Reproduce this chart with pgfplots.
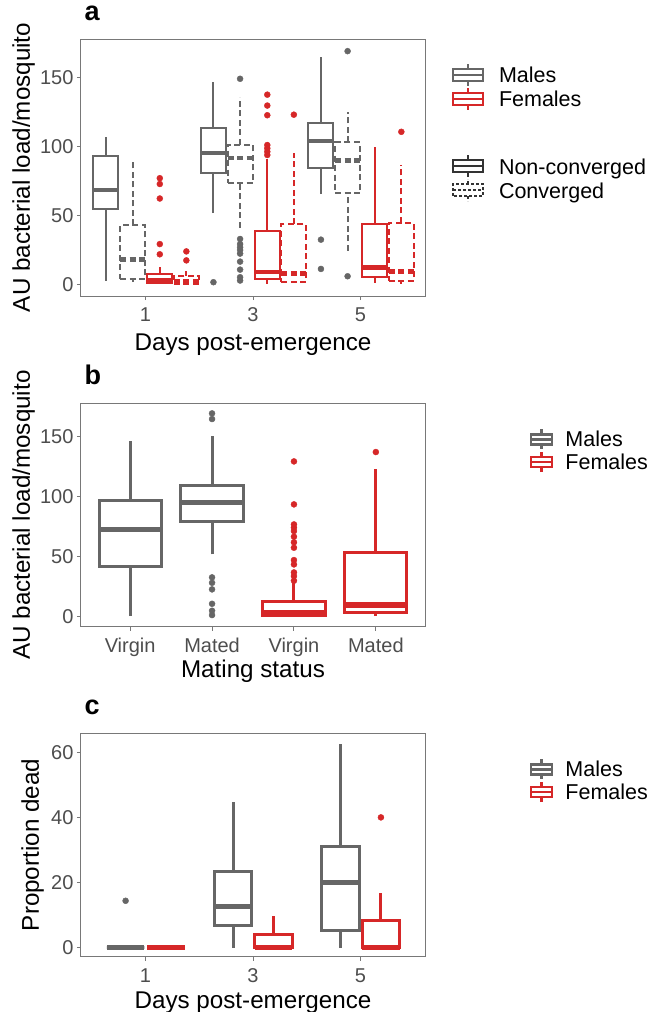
\documentclass[border=0pt]{standalone}
\usepackage{fontspec}
\setmainfont{Liberation Sans}
\usepackage{pgfplots}
\pgfplotsset{compat=1.18}

\definecolor{mgrey}{RGB}{102,102,102}
\definecolor{fred}{RGB}{214,39,40}
\definecolor{dgrey}{RGB}{51,51,51}
\definecolor{framegrey}{RGB}{120,120,120}
\definecolor{ticklab}{RGB}{77,77,77}

% \bx{style}{position}{half width}{lower whisker}{lower quartile}{median}{upper quartile}{upper whisker}
\newcommand{\bx}[8]{%
  \pgfmathsetmacro\xa{#2-#3}\pgfmathsetmacro\xb{#2+#3}%
  \edef\tmp{%
    \noexpand\addplot[#1] coordinates {(#2,#4) (#2,#5)};
    \noexpand\addplot[#1] coordinates {(#2,#7) (#2,#8)};
    \noexpand\addplot[#1] coordinates {(\xa,#5) (\xb,#5) (\xb,#7) (\xa,#7)} -- cycle;
    \noexpand\addplot[#1, medline] coordinates {(\xa,#6) (\xb,#6)};
  }\tmp}

\pgfplotsset{
  common/.style={
    scale only axis, width=344pt,
    axis line style={framegrey, line width=1pt},
    tick align=outside, xtick pos=left, ytick pos=left,
    major tick length=4pt,
    every tick/.style={framegrey, line width=1pt},
    /pgf/number format/assume math mode=true,
    ticklabel style={font=\fontsize{20}{23}\selectfont, text=ticklab},
    xticklabel style={yshift=-4pt},
    label style={font=\fontsize{24.2}{28}\selectfont},
    title style={font=\fontsize{27}{30}\selectfont\bfseries, at={(rel axis cs:0,1)}, anchor=base west, yshift=13pt},
    legend style={draw=none, fill=none, anchor=north west, inner sep=0pt, outer sep=0pt,
      font=\fontsize{21.5}{24}\selectfont, row sep=0pt, nodes={inner sep=0pt}},
    legend cell align=left,
  },
  legboxA/.style={legend image code/.code={
      \draw[##1, line width=2pt] (0pt,-6pt) rectangle (30pt,6pt);
      \draw[##1, line width=2pt] (0pt,0pt) -- (30pt,0pt);
      \draw[##1, line width=2pt] (15pt,6pt) -- (15pt,11pt);
      \draw[##1, line width=2pt] (15pt,-6pt) -- (15pt,-11pt);}},
  legboxB/.style={legend image code/.code={
      \draw[##1, line width=2.5pt] (0pt,-5pt) rectangle (21pt,5pt);
      \draw[##1, line width=2.5pt] (0pt,0pt) -- (21pt,0pt);
      \draw[##1, line width=2.5pt] (10.5pt,5pt) -- (10.5pt,10pt);
      \draw[##1, line width=2.5pt] (10.5pt,-5pt) -- (10.5pt,-10pt);}},
  mA/.style={forget plot, draw=mgrey, line width=2pt, solid},
  mAd/.style={mA, dash pattern=on 6pt off 3.5pt},
  fA/.style={forget plot, draw=fred, line width=2pt, solid},
  fAd/.style={fA, dash pattern=on 6pt off 3.5pt},
  mB/.style={forget plot, draw=mgrey, line width=3pt, solid},
  fB/.style={forget plot, draw=fred, line width=3pt, solid},
  ptM/.style={forget plot, only marks, mark=*, mark size=3pt, color=mgrey, mark options={solid, draw=none, fill=mgrey}},
  ptF/.style={forget plot, only marks, mark=*, mark size=3pt, color=fred, mark options={solid, draw=none, fill=fred}},
}

\begin{document}
\begin{tikzpicture}
\useasboundingbox (0,0) rectangle (651pt,-1012pt);

% ---------------- Panel a ----------------
\begin{axis}[common, at={(81pt,-296pt)}, anchor=south west, height=257pt,
  xmin=0.4, xmax=3.6, ymin=-8.3, ymax=177.8,
  xtick={1,2,3}, xticklabels={1,3,5}, ytick={0,50,100,150},
  xlabel={Days post-emergence}, ylabel={AU bacterial load/mosquito},
  xlabel style={at={(axis description cs:0.5,0)}, anchor=base, yshift=-54pt},
  ylabel style={at={(axis description cs:-0.1483,0.5)}, anchor=base},
  title={a},
  legend style={at={(axis description cs:1.0785,0.9066)}, column sep=15pt},
  medline/.style={line width=4.5pt},
]
\addlegendimage{legboxA, draw=mgrey}\addlegendentry{\strut Males}
\addlegendimage{legboxA, draw=fred}\addlegendentry{\strut Females}

% day 1
\bx{mA}{0.632}{0.1165}{2.9}{54.6}{68.5}{93.3}{107}
\bx{mAd}{0.880}{0.1165}{1.7}{4.1}{18}{42.8}{90}
\bx{fA}{1.133}{0.1165}{0.5}{1.3}{3.2}{7.5}{12.5}
\bx{fAd}{1.380}{0.1165}{0.5}{0.7}{2.4}{6.5}{9.6}
\addplot[ptF] coordinates {(1.133,77) (1.133,72.8) (1.133,62.3) (1.133,29.3) (1.133,21.9)};
\addplot[ptF] coordinates {(1.38,24) (1.38,17.5)};
% day 3
\bx{mA}{1.632}{0.1165}{51.7}{80.5}{95.4}{113.5}{146.6}
\bx{mAd}{1.880}{0.1165}{41.3}{73.3}{91.8}{101.4}{135.8}
\bx{fA}{2.133}{0.1165}{0.5}{4.1}{9.1}{39}{90.6}
\bx{fAd}{2.380}{0.1165}{1.2}{2.2}{7.9}{43.8}{95.4}
\addplot[ptM] coordinates {(1.632,1.7)};
\addplot[ptM] coordinates {(1.88,149) (1.88,33) (1.88,29.3) (1.88,27) (1.88,25) (1.88,22.4) (1.88,16.6) (1.88,10.8) (1.88,5.3) (1.88,2.9)};
\addplot[ptF] coordinates {(2.133,137.5) (2.133,129.6) (2.133,122.6) (2.133,101) (2.133,98.6) (2.133,96.2) (2.133,93.8)};
\addplot[ptF] coordinates {(2.38,123)};
% day 5
\bx{mA}{2.632}{0.1165}{65.4}{84.1}{104}{116.8}{164.7}
\bx{mAd}{2.880}{0.1165}{24.5}{66.1}{89.7}{102.9}{125}
\bx{fA}{3.133}{0.1165}{1.2}{5.3}{12.3}{43.8}{99.8}
\bx{fAd}{3.380}{0.1165}{0.7}{2.9}{9.4}{44.7}{86.5}
\addplot[ptM] coordinates {(2.632,32.5) (2.632,11.3)};
\addplot[ptM] coordinates {(2.88,169) (2.88,6)};
\addplot[ptF] coordinates {(3.38,110.6)};
\end{axis}

% second legend of panel a (linetype), on a hidden overlay axis
\begin{axis}[common, at={(81pt,-296pt)}, anchor=south west, height=257pt,
  hide axis, xmin=0, xmax=1, ymin=0, ymax=1,
  legend style={at={(axis description cs:1.0785,0.5525)}, column sep=15pt,
    font=\fontsize{21.5}{26.7}\selectfont},
]
\addlegendimage{legboxA, draw=dgrey}\addlegendentry{\strut Non-converged}
\addlegendimage{legboxA, draw=dgrey, dash pattern=on 3pt off 2pt}\addlegendentry{\strut Converged}
\end{axis}

% ---------------- Panel b ----------------
\begin{axis}[common, at={(81pt,-626.7pt)}, anchor=south west, height=223.4pt,
  xmin=0.4, xmax=4.6, ymin=-8.3, ymax=177.8,
  xtick={1,2,3,4}, xticklabels={Virgin,Mated,Virgin,Mated}, ytick={0,50,100,150},
  xlabel={Mating status}, ylabel={AU bacterial load/mosquito},
  xlabel style={at={(axis description cs:0.5,0)}, anchor=base, yshift=-50.5pt},
  ylabel style={at={(axis description cs:-0.1483,0.5)}, anchor=base},
  title={b},
  legend style={at={(axis description cs:1.305,0.8894)}, column sep=12pt},
  medline/.style={line width=5.5pt},
]
\addlegendimage{legboxB, draw=mgrey}\addlegendentry{\strut Males}
\addlegendimage{legboxB, draw=fred}\addlegendentry{\strut Females}
\bx{mB}{1}{0.38}{0.6}{42.2}{72.8}{96.7}{146.7}
\bx{mB}{2}{0.38}{51.9}{79.7}{95.3}{109.4}{150.6}
\bx{fB}{3}{0.38}{0.3}{0.9}{3.6}{13}{28}
\bx{fB}{4}{0.38}{0.6}{3.9}{9.7}{53.3}{122.8}
\addplot[ptM] coordinates {(2,169.4) (2,164.7) (2,32.8) (2,28.3) (2,22.8) (2,10.8) (2,5) (2,1.4)};
\addplot[ptF] coordinates {(3,129.4) (3,93.6) (3,76.9) (3,74.2) (3,71.4) (3,66.7) (3,62) (3,57.5) (3,47.2) (3,43.6) (3,36.9) (3,33.9) (3,30)};
\addplot[ptF] coordinates {(4,137.2)};
\end{axis}

% ---------------- Panel c ----------------
\begin{axis}[common, at={(81pt,-956.7pt)}, anchor=south west, height=223.4pt,
  xmin=0.4, xmax=3.6, ymin=-2.76, ymax=65.8,
  xtick={1,2,3}, xticklabels={1,3,5}, ytick={0,20,40,60},
  xlabel={Days post-emergence}, ylabel={Proportion dead},
  xlabel style={at={(axis description cs:0.5,0)}, anchor=base, yshift=-52pt},
  ylabel style={at={(axis description cs:-0.1221,0.5)}, anchor=base},
  title={c},
  legend style={at={(axis description cs:1.305,0.8894)}, column sep=12pt},
  medline/.style={line width=5.5pt},
]
\addlegendimage{legboxB, draw=mgrey}\addlegendentry{\strut Males}
\addlegendimage{legboxB, draw=fred}\addlegendentry{\strut Females}
\bx{mB}{0.815}{0.1735}{0}{0}{0}{0}{0}
\bx{fB}{1.190}{0.1735}{0}{0}{0}{0}{0}
\bx{mB}{1.815}{0.1735}{0}{6.8}{12.6}{23.5}{44.8}
\bx{fB}{2.190}{0.1735}{0}{0}{0}{4.1}{9.8}
\bx{mB}{2.815}{0.1735}{0}{5.2}{20}{31}{62.4}
\bx{fB}{3.190}{0.1735}{0}{0}{0}{8.5}{16.7}
\addplot[ptM] coordinates {(0.815,14.4)};
\addplot[ptF] coordinates {(3.19,40)};
\end{axis}
\end{tikzpicture}
\end{document}
